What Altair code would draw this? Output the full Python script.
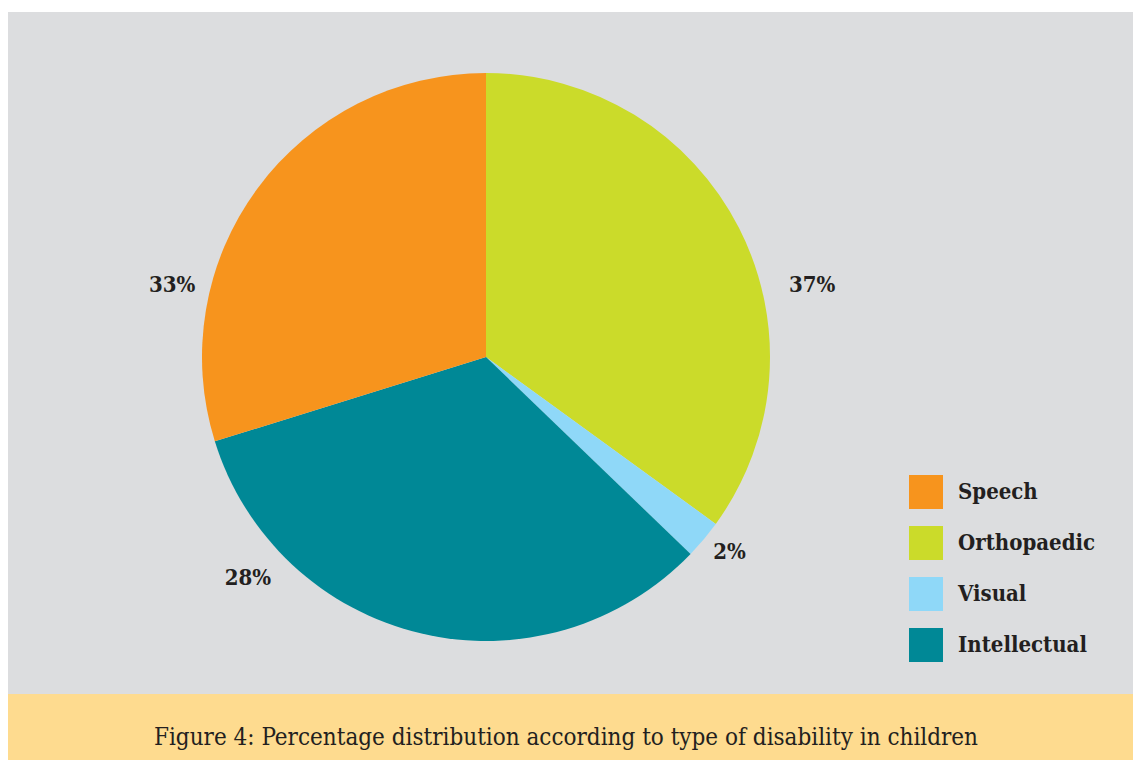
import math
import altair as alt
import pandas as pd

# ---- data ----
categories = ["Orthopaedic", "Visual", "Intellectual", "Speech"]   # clockwise from 12 o'clock
slice_share = [35.0, 2.2, 33.0, 29.8]                              # drawn angular share (%)
label_text = ["37%", "2%", "28%", "33%"]                           # printed labels
legend_order = ["Speech", "Orthopaedic", "Visual", "Intellectual"]
caption = "Figure 4: Percentage distribution according to type of disability in children"

# ---- layout / style (kept separate from the data) ----
label_angle_deg = [77.5, 128.7, 227.1, 282.9]
label_radius_px = [334, 312, 325, 322]
colors = ["#F7941D", "#CBDB2A", "#8FD8F8", "#008896"]  # in legend_order
W, H = 1125, 752
CX, CY, R = 478, 349, 284
GREY, YELLOW, INK = "#DCDDDF", "#FEDB8F", "#231F20"
FONT = "DejaVu Serif Condensed, DejaVu Serif, Liberation Serif, serif"

pie_df = pd.DataFrame({"category": categories, "share": slice_share,
                       "order": list(range(len(categories)))})
lab_df = pd.DataFrame({"label": label_text, "ang": label_angle_deg, "r": label_radius_px})
cap_df = pd.DataFrame({"caption": [caption]})
one = pd.DataFrame({"k": [0]})

grey_bg = alt.Chart(one).mark_rect(color=GREY).encode(
    x=alt.value(0), x2=alt.value(W), y=alt.value(4), y2=alt.value(686))
yellow_bg = alt.Chart(one).mark_rect(color=YELLOW).encode(
    x=alt.value(0), x2=alt.value(W), y=alt.value(686), y2=alt.value(H))

pie = alt.Chart(pie_df).mark_arc(radius=R, stroke=None).encode(
    theta=alt.Theta("share:Q", stack=True),
    order=alt.Order("order:Q"),
    color=alt.Color("category:N",
                    scale=alt.Scale(domain=legend_order, range=colors),
                    legend=alt.Legend(title=None, orient="none", legendX=901, legendY=467,
                                      symbolType="square", symbolSize=1156,
                                      symbolStrokeWidth=0, symbolOpacity=1,
                                      labelFont=FONT, labelFontSize=22,
                                      labelFontWeight="bold", labelColor=INK,
                                      rowPadding=17, labelOffset=15, padding=0,
                                      labelLimit=300)),
    x=alt.value(CX), y=alt.value(CY),
)

labels = alt.Chart(lab_df).mark_text(font=FONT, fontSize=22, fontWeight="bold",
                                     color=INK, align="center", baseline="middle").encode(
    theta=alt.Theta("ang:Q", stack=False,
                    scale=alt.Scale(domain=[0, 360], range=[0, 2 * math.pi])),
    radius=alt.Radius("r:Q", scale=alt.Scale(type="linear", domain=[0, 400],
                                             range=[0, 400], zero=True)),
    text="label:N",
    x=alt.value(CX), y=alt.value(CY),
)

cap = alt.Chart(cap_df).mark_text(font=FONT, fontSize=24, color=INK,
                                  align="center", baseline="alphabetic").encode(
    text="caption:N", x=alt.value(558), y=alt.value(737))

chart = alt.layer(grey_bg, yellow_bg, pie, labels, cap).resolve_scale(
    theta="independent", radius="independent"
).properties(
    width=W, height=H, autosize=alt.AutoSizeParams(type="none"), padding=0,
    background="white"
).configure_view(stroke=None)

chart.save("out.html", embed_options={"renderer": "svg", "actions": False})
